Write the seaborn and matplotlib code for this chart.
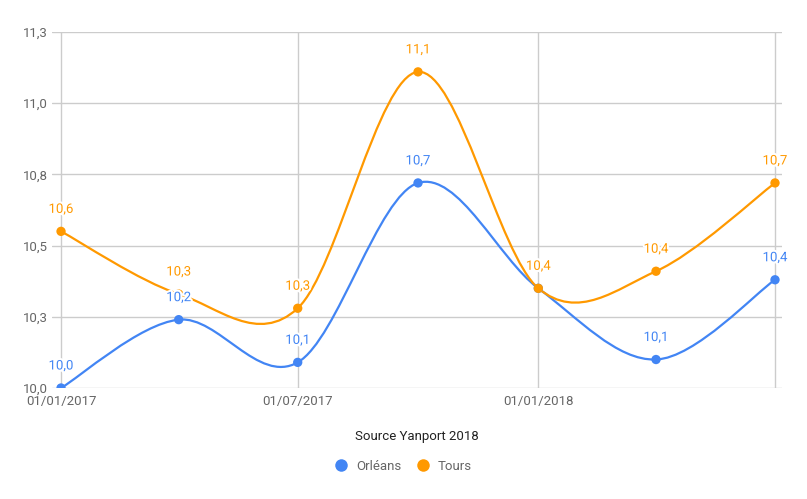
import matplotlib
matplotlib.use("Agg")
import matplotlib.pyplot as plt
import matplotlib.dates as mdates
from matplotlib.path import Path
from matplotlib.patches import PathPatch
from matplotlib.lines import Line2D
import matplotlib.patheffects as pe
import seaborn as sns
import pandas as pd
import numpy as np

dates = ["2017-01-01", "2017-04-01", "2017-07-01", "2017-10-01",
         "2018-01-01", "2018-04-01", "2018-07-01"]
orleans = [10.00, 10.24, 10.09, 10.72, 10.35, 10.10, 10.38]
tours = [10.55, 10.33, 10.28, 11.11, 10.35, 10.41, 10.72]
series_names = ["Orléans", "Tours"]
colors = ["#4285f4", "#ff9900"]
x_tick_dates = ["2017-01-01", "2017-07-01", "2018-01-01", "2018-07-01"]
x_tick_labels = ["01/01/2017", "01/07/2017", "01/01/2018", ""]
y_ticks = [10.0, 10.25, 10.5, 10.75, 11.0, 11.25]
y_tick_labels = ["10,0", "10,3", "10,5", "10,8", "11,0", "11,3"]
x_title = "Source Yanport 2018"

sns.set_theme(style="white")
plt.rcParams["font.family"] = ["Roboto", "DejaVu Sans"]

df = pd.DataFrame({
    "date": pd.to_datetime(dates * 2),
    "value": orleans + tours,
    "ville": [series_names[0]] * len(dates) + [series_names[1]] * len(dates),
})

fig = plt.figure(figsize=(8.07, 4.99), dpi=100)
W, H = 807, 499
ax = fig.add_axes([52 / W, (H - 388) / H, (782 - 52) / W, (388 - 32) / H])

xd = mdates.date2num(pd.to_datetime(dates))
x0 = mdates.date2num(pd.Timestamp("2017-01-01")) - 6.9
x1 = mdates.date2num(pd.Timestamp("2018-07-01")) + 5.35
ax.set_xlim(x0, x1)
ax.set_ylim(10.0, 11.25)


def smooth_path(xs, ys, k=1.0 / 6.0):
    pts = np.column_stack([xs, ys])
    n = len(pts)
    verts = [pts[0]]
    codes = [Path.MOVETO]
    for i in range(n - 1):
        p_prev = pts[i - 1] if i > 0 else pts[i]
        p0 = pts[i]
        p1 = pts[i + 1]
        p_next = pts[i + 2] if i + 2 < n else pts[i + 1]
        c1 = p0 + (p1 - p_prev) * k
        c2 = p1 - (p_next - p0) * k
        verts += [c1, c2, p1]
        codes += [Path.CURVE4, Path.CURVE4, Path.CURVE4]
    return Path(verts, codes)


for vals, col in zip([orleans, tours], colors):
    patch = PathPatch(smooth_path(xd, np.array(vals)), facecolor="none",
                      edgecolor=col, lw=1.6, zorder=3, capstyle="round")
    ax.add_patch(patch)

sns.scatterplot(data=df, x="date", y="value", hue="ville", palette=colors,
                s=45, edgecolor="none", zorder=4, ax=ax, legend=False)

for vals, col in zip([orleans, tours], colors):
    for xv, yv in zip(xd, vals):
        lbl = f"{yv + 1e-9:.1f}".replace(".", ",")
        ax.annotate(lbl, (xv, yv), xytext=(0, 22), textcoords="offset pixels",
                    ha="center", va="center", color=col, fontsize=9.5, zorder=5,
                    path_effects=[pe.withStroke(linewidth=3, foreground="white")])

ax.set_xticks(mdates.date2num(pd.to_datetime(x_tick_dates)))
ax.set_xticklabels(x_tick_labels)
ax.set_yticks(y_ticks)
ax.set_yticklabels(y_tick_labels)
ax.grid(True, color="#cccccc", lw=1)
ax.set_axisbelow(True)
for s in ax.spines.values():
    s.set_visible(False)
ax.tick_params(axis="both", length=0, colors="#666666", labelsize=9.5)
ax.tick_params(axis="x", pad=5)
ax.tick_params(axis="y", pad=3)
ax.set_ylabel("")
ax.set_xlabel(x_title, fontsize=9.5, color="#222222", labelpad=16)

handles = [Line2D([0], [0], marker="o", ls="none", markersize=9,
                  markerfacecolor=c, markeredgecolor="none") for c in colors]
fig.legend(handles, series_names, loc="center", bbox_to_anchor=(0.5, 1 - 466 / H),
           ncol=2, frameon=False, fontsize=9.5, labelcolor="#666666",
           handlelength=1.0, handletextpad=0.65, columnspacing=1.1)

fig.savefig("out.png", dpi=100)
